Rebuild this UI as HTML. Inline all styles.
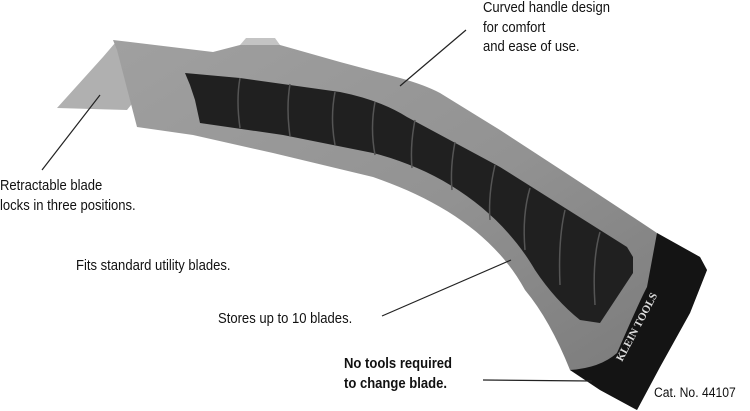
<!DOCTYPE html>
<html><head><style>
body{margin:0;background:#fff;width:750px;height:411px;overflow:hidden;position:relative;font-family:"Liberation Sans",sans-serif;}
.t{position:absolute;font-size:14.5px;line-height:19.5px;color:#111;transform:scaleX(0.9);transform-origin:left top;white-space:nowrap}
</style></head><body>
<svg width="750" height="411" style="position:absolute;left:0;top:0">
<defs>
<linearGradient id="g" x1="0" y1="0" x2="1" y2="1"><stop offset="0" stop-color="#a0a0a0"/><stop offset="0.5" stop-color="#929292"/><stop offset="1" stop-color="#767676"/></linearGradient>
</defs>
<polygon points="57,108 103,57 115,43 135,100 127,110" fill="#b0b0b0"/>
<polygon points="240,45 246,38 275,38 280,45" fill="#c4c4c4"/>
<path d="M113,40 L213,52 L240,45 L280,45 L340,62 L400,78 Q425,85 440,93 L500,130 Q600,195 657,233 L700,257 L707,270 L690,313 L660,367 L637,410 L600,390 L570,370 Q550,320 525,290 C495,235 440,200 373,177 L273,153 L193,135 L137,127 L117,50 Z" fill="url(#g)"/>
<path d="M185,73 L240,78 L340,92 Q380,100 407,117 L500,167 L627,247 L633,257 L633,273 L600,323 L580,320 Q555,300 535,270 C500,210 440,170 373,153 L283,135 L200,123 L195,100 L190,85 Z" fill="#202020"/>
<g stroke="#555" stroke-width="1.5" fill="none">
<path d="M240,78 Q236,100 240,128"/><path d="M290,84 Q286,108 290,136"/><path d="M335,92 Q330,118 335,145"/><path d="M375,102 Q370,128 375,155"/><path d="M415,120 Q410,145 412,168"/><path d="M455,142 Q450,168 452,190"/><path d="M495,165 Q488,195 490,220"/><path d="M530,188 Q522,215 525,250"/><path d="M565,210 Q558,240 560,285"/><path d="M600,232 Q592,260 595,305"/>
</g>
<path d="M657,233 L700,257 L707,270 L690,313 L660,367 L637,410 L600,390 L570,370 Q600,368 617,353 Q640,300 647,287 Z" fill="#141414"/>
<text x="622" y="362" fill="#ddd" font-family="Liberation Serif" font-weight="bold" font-size="11" transform="rotate(-62 622 362)">KLEIN TOOLS</text>
<g stroke="#222" stroke-width="1.2">
<line x1="466" y1="30" x2="400" y2="86"/>
<line x1="42" y1="170" x2="100" y2="95"/>
<line x1="382" y1="316" x2="511" y2="260"/>
<line x1="483" y1="380" x2="592" y2="381"/>
</g>
</svg>
<div class="t" style="left:483px;top:-1px">Curved handle design<br>for comfort<br>and ease of use.</div>
<div class="t" style="left:0;top:177px">Retractable blade<br>locks in three positions.</div>
<div class="t" style="left:76px;top:257px">Fits standard utility blades.</div>
<div class="t" style="left:218px;top:310px">Stores up to 10 blades.</div>
<div class="t" style="left:344px;top:355px;font-weight:bold">No tools required<br>to change blade.</div>
<div class="t" style="left:654px;top:383px;font-size:13.5px">Cat. No. 44107</div>
</body></html>
